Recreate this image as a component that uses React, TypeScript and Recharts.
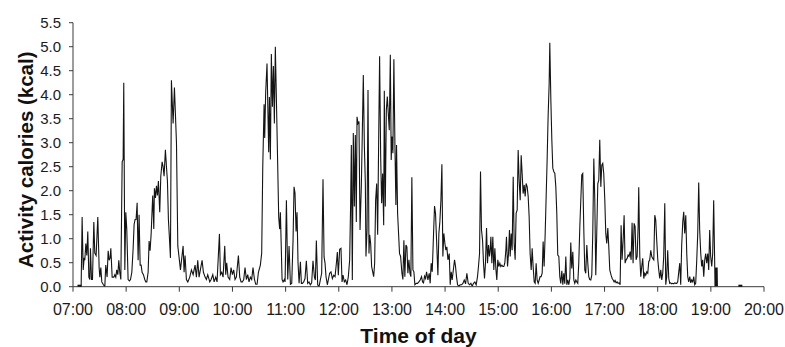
import React from 'react';
import { ComposedChart, Line, Scatter, XAxis, YAxis, Label } from 'recharts';

// Tick labels
const hourLabels = ['07:00', '08:00', '09:00', '10:00', '11:00', '12:00', '13:00', '14:00', '15:00', '16:00', '17:00', '18:00', '19:00', '20:00'];
const kcalTicks = [0, 0.5, 1, 1.5, 2, 2.5, 3, 3.5, 4, 4.5, 5, 5.5];

// [minutes after 07:00, activity kcal]
const part0700: [number, number][] = [
  [9.2, 0], [10.3, 1.45], [11.5, 0.35], [12.6, 0.6], [13.3, 0.55], [14.5, 0.9], [15.6, 0.65], [16.7, 1.15], [17.9, 0.2], [19.0, 0.15],
  [19.7, 0.8], [20.9, 0.15], [22.0, 0.15], [23.5, 1.35], [24.6, 0.7], [26.1, 0.65], [28.0, 1.45], [29.5, 0.4], [30.3, 0.2], [31.4, 0.4],
  [32.5, 0.1], [34.0, 0.05], [35.9, 0], [37.0, 0.45], [38.5, 0.2], [39.7, 0.75], [40.8, 0.55], [41.9, 0.6], [42.7, 0.8], [44.2, 0.2],
  [46.1, 0.2], [47.2, 0.25], [48.3, 0.2], [49.4, 0.35], [50.6, 0.25], [51.7, 0.55], [52.8, 0.3], [54.0, 0.15], [55.5, 2.6], [56.6, 2.65],
  [57.3, 4.25], [58.5, 0.35], [59.6, 1.55], [60.7, 1.2], [62.2, 0.15], [63.7, 0.12], [64.9, 0.15], [66.4, 0.3], [67.9, 0.8], [69.0, 1.3],
  [70.1, 1.4], [71.2, 1.4], [72.4, 1.75], [73.5, 0.55], [74.6, 1.5], [75.8, 0.45], [76.9, 0.45], [78.0, 0.3], [79.5, 0.25], [81.0, 0.15],
  [82.2, 0.1], [83.3, 0.1], [84.8, 0.3], [85.9, 0.95], [87.0, 0.75], [88.2, 1.1], [89.3, 1.6], [90.0, 1.9], [91.2, 1.2], [91.9, 2.05],
  [93.1, 1.85], [94.2, 2.1], [95.3, 1.9], [96.4, 2.2], [97.9, 1.55], [99.1, 2.3], [100.6, 2.6], [101.7, 2.5], [102.8, 2.3], [104.3, 2.85],
  [105.5, 2.5], [106.6, 2.2], [107.7, 1.4], [108.9, 1.0], [110.0, 0.6],
];

const part0900: [number, number][] = [
  [111.1, 4.3], [113.0, 3.4], [114.5, 4.15], [116.8, 3.0], [118.3, 0.85], [121.3, 0.35], [124.3, 0.85], [125.4, 0.3], [126.5, 0.65], [128.0, 0.15],
  [129.6, 0.1], [131.8, 0.2], [133.7, 0.35], [135.6, 0.25], [137.8, 0.45], [139.3, 0.2], [140.8, 0.55], [142.3, 0.2], [145.7, 0.55], [147.2, 0.3],
  [149.1, 0.2], [150.6, 0.15], [152.1, 0.25], [154.4, 0.1], [155.9, 0.15], [157.8, 0.25], [159.3, 0.1], [161.1, 0.2], [162.6, 0.1], [165.3, 1.1],
  [166.4, 0.25], [167.9, 0.3], [169.4, 0.2], [171.3, 0.85], [172.4, 0.25], [173.5, 0.5], [175.0, 0.2], [176.9, 0.15], [178.4, 0.4], [179.9, 0.25],
  [181.4, 0.35], [182.9, 0.15], [184.4, 0.2], [186.7, 0.65], [188.2, 0.2], [189.7, 0.1], [191.2, 0.1], [192.7, 0.15], [194.2, 0.4], [195.7, 0.15],
  [197.2, 0.25], [198.7, 0.1], [200.2, 0.2], [201.7, 0.15], [203.2, 0.4], [204.8, 0.15], [206.3, 0.05], [207.8, 0.05], [209.3, 0.3], [211.5, 0.45],
  [213.0, 0.7], [214.2, 2.5], [215.7, 3.8], [216.4, 3.1], [217.5, 4.05], [219.0, 4.65], [220.9, 2.8], [221.7, 3.95], [222.8, 2.65], [223.9, 4.85],
  [225.1, 3.75], [226.2, 4.6], [227.3, 3.4], [228.4, 5.0], [229.6, 3.9], [231.1, 2.5], [232.2, 1.45], [233.3, 1.2],
];

const part1100: [number, number][] = [
  [234.1, 1.55], [236.0, 0.15], [237.1, 0.1], [238.6, 0.15], [239.4, 0.1], [240.9, 1.8], [242.4, 0.15], [243.9, 0.85], [245.4, 0.05], [246.9, 0.07],
  [248.4, 0.97], [249.5, 2.08], [250.6, 1.95], [251.8, 1.15], [252.9, 1.55], [254.0, 0.5], [255.2, 0.07], [256.7, 0.52], [257.8, 0.07], [258.9, 0.07],
  [260.4, 0.1], [261.9, 0.17], [263.4, 0.54], [264.9, 0.07], [266.4, 0.1], [267.9, 0.04], [269.4, 0.08], [270.9, 0.54], [272.5, 0.2], [273.6, 0.14],
  [274.7, 0.96], [276.2, 0.04], [277.7, 0], [279.2, 0.14], [280.7, 0.28], [282.2, 2.24], [283.4, 0.62], [284.5, 0.49], [285.6, 0.21], [287.1, 0.04],
  [288.2, 0.14], [289.7, 0.28], [291.2, 0.31], [292.8, 0.17], [294.3, 0.24], [295.8, 0.21], [297.3, 0.49], [298.4, 0.72], [299.5, 0.24], [301.0, 0.78],
  [302.5, 0.8], [303.7, 0.1], [304.8, 0.24], [306.3, 0.1], [307.8, 0.14], [309.3, 0.04], [310.8, 0.21], [312.3, 0.56], [313.4, 1.74], [314.2, 2.95],
  [315.3, 0.14], [316.4, 3.2], [317.6, 1.67], [318.7, 3.16], [319.8, 1.35], [320.6, 3.54], [321.7, 3.4], [322.8, 3.44], [324.0, 1.18], [325.5, 2.12],
  [326.6, 3.23], [327.7, 4.41], [328.9, 2.92], [330.0, 2.15], [330.7, 0.63], [331.9, 1.18], [333.0, 4.1], [334.1, 0.69], [334.9, 1.08], [336.0, 0.9],
  [337.1, 0.42], [338.3, 0.31], [339.4, 0.21], [340.5, 0.49], [341.6, 1.8], [342.8, 2.15], [343.9, 1.08], [345.0, 2.99], [346.1, 4.8], [347.3, 2.7],
  [348.4, 1.74], [349.5, 2.36], [350.7, 1.28], [351.4, 4.08], [352.5, 1.67], [353.7, 3.68], [354.8, 3.96], [355.9, 3.61], [357.0, 3.26],
];

const part1300: [number, number][] = [
  [358.2, 4.83], [359.2, 2.64], [360.0, 3.13], [361.1, 2.78], [362.2, 4.74], [363.4, 2.92], [364.5, 1.7], [365.2, 2.95], [366.4, 1.53], [367.5, 1.11],
  [368.6, 0.69], [369.8, 0.63], [371.3, 0.28], [372.4, 0.15], [373.5, 0.97], [374.6, 0.21], [375.8, 0.87], [376.9, 0.83], [378.0, 0.28], [379.2, 0.56],
  [380.3, 0.28], [381.4, 0.21], [382.5, 2.28], [383.7, 0.35], [384.8, 0.31], [385.9, 0.04], [387.4, 0.07], [388.9, 0.07], [390.4, 0.1], [391.9, 0.14],
  [393.4, 0.21], [394.6, 0.1], [395.7, 0.08], [396.8, 0.22], [398.0, 0.17], [399.1, 0.31], [400.6, 0.14], [402.1, 0.28], [403.2, 0.07], [404.3, 0.49],
  [405.5, 0.31], [407.0, 1.11], [408.1, 1.68], [409.2, 1.53], [410.4, 0.97], [411.9, 0.24], [413.0, 1.11], [414.1, 1.35], [415.3, 1.8], [416.4, 2.55],
  [417.5, 0.63], [418.6, 1.11], [419.8, 0.9], [420.9, 0.76], [422.0, 0.83], [423.2, 0.56], [424.7, 0.69], [425.8, 0.04], [426.9, 0.31], [428.0, 0.14],
  [429.5, 0.38], [430.7, 0.56], [431.8, 0.42], [432.9, 0.21], [434.1, 0.04], [435.6, 0.01], [437.1, 0.04], [438.6, 0.04], [440.1, 0.07], [441.6, 0.14],
  [443.1, 0.06], [444.6, 0.28], [446.1, 0.07], [447.6, 0.04], [449.1, 0.07], [450.6, 0.01], [452.1, 0.07], [453.6, 0.1], [455.1, 0.04], [456.6, 0.21],
  [457.7, 0.42], [458.9, 0.69], [460.0, 2.4], [461.1, 1.18], [462.3, 0.97], [463.4, 0.49], [464.5, 0.17], [465.6, 0.49], [466.8, 1.22], [467.9, 0.49],
  [469.0, 0.87], [470.1, 0.63], [470.9, 0.76], [471.7, 1.04], [472.8, 0.49], [473.9, 1.04], [475.0, 0.35], [476.2, 0.8], [477.3, 0.38], [478.4, 0.14],
  [479.5, 0.56],
];

const part1500: [number, number][] = [
  [480.7, 0.42], [481.8, 0.49], [482.9, 0.42], [484.1, 0.45], [485.2, 0.42], [486.3, 0.42], [487.4, 0.49], [488.6, 0.76], [489.3, 1.04], [490.5, 0.42],
  [491.6, 0.69], [492.7, 1.18], [493.5, 0.63], [494.6, 1.11], [495.7, 0.76], [496.9, 2.29], [498.0, 0.9], [499.1, 0.56], [500.2, 1.53], [501.4, 1.6],
  [502.5, 2.85], [503.6, 2.22], [504.8, 1.8], [505.9, 2.74], [507.0, 2.36], [508.1, 1.94], [509.3, 2.12], [510.4, 1.88], [511.5, 2.15], [512.7, 2.08],
  [513.8, 1.88], [514.9, 1.46], [516.0, 0.69], [517.2, 0.35], [518.3, 0.8], [519.4, 0.42], [520.6, 0.1], [521.7, 0.07], [522.8, 0.49], [523.9, 0.14],
  [525.1, 0.07], [526.2, 0.14], [527.3, 0.21], [528.4, 0.21], [529.6, 0.28], [530.7, 0.94], [531.8, 0.42], [533.0, 1.11], [534.1, 1.88], [535.2, 2.64],
  [536.3, 3.54], [537.5, 4.24], [538.2, 5.08], [539.4, 3.89], [540.5, 3.06], [541.6, 2.47], [542.7, 2.4], [543.9, 2.36], [545.0, 2.08], [546.1, 1.53],
  [547.2, 0.66], [548.4, 0.63], [549.5, 0.21], [550.6, 0.07], [551.8, 0.33], [552.9, 0.04], [554.0, 0.28], [555.1, 0.06], [556.3, 0.63], [557.4, 0.04],
  [558.5, 0.14], [559.7, 0.04], [560.8, 0.17], [561.9, 0.92], [563.0, 0.38], [564.2, 0.73], [565.3, 0.14], [566.4, 0.07], [567.6, 0.14], [568.7, 0.1],
  [569.8, 0.07], [570.9, 0.49], [572.1, 1.25], [573.2, 1.8], [574.3, 2.33], [575.4, 2.36], [576.6, 1.18], [577.7, 0.35], [578.8, 0.28], [580.0, 0.87],
  [581.1, 0.49], [582.2, 0.21], [583.3, 0.15], [584.5, 0.14], [585.6, 0.24], [586.7, 1.11], [587.9, 2.67], [589.0, 1.8], [590.1, 0.24], [591.2, 1.11],
  [592.4, 2.15], [593.5, 2.22], [594.6, 3.06], [595.8, 2.08], [596.9, 2.53], [598.0, 2.57], [599.1, 2.36],
];

const part1700: [number, number][] = [
  [600.3, 1.8], [601.4, 1.11], [602.5, 0.9], [603.7, 1.22], [604.8, 0.83], [605.9, 0.35], [607.4, 0.24], [608.6, 0.17], [609.7, 0.14], [610.8, 0.1],
  [611.9, 0.13], [613.1, 0.08], [614.2, 0.1], [615.3, 0.07], [616.5, 0.08], [617.6, 0.04], [618.7, 1.28], [619.8, 0.56], [621.0, 0.97], [622.1, 1.49],
  [623.2, 0.49], [624.3, 0.56], [625.5, 0.59], [626.6, 0.66], [627.7, 0.63], [628.9, 0.73], [630.0, 0.56], [631.1, 1.33], [632.2, 0.49], [633.4, 1.32],
  [634.5, 1.25], [635.6, 0.56], [636.8, 0.63], [637.9, 1.25], [638.6, 2.07], [639.8, 0.63], [640.9, 0.21], [642.0, 0.42], [643.1, 0.59], [644.3, 0.17],
  [645.4, 0.28], [646.5, 0.24], [647.7, 0.31], [648.8, 0.28], [649.9, 0.52], [651.0, 0.56], [652.2, 0.76], [653.3, 0.63], [654.4, 0.59], [655.6, 0.56],
  [656.7, 1.49], [657.8, 1.39], [658.9, 0.97], [660.1, 0.56], [661.2, 0.35], [662.3, 0.17], [663.5, 0.35], [664.6, 0.14], [665.7, 0.28], [666.8, 0.63],
  [668.0, 1.74], [669.1, 0.04], [670.2, 0.21], [671.3, 0.76], [672.5, 0.17], [673.6, 0.07], [674.7, 0.08], [675.9, 0.06], [677.0, 0.07], [678.1, 0.06],
  [679.2, 0.08], [680.4, 0.07], [681.5, 0.07], [682.6, 0.1], [683.8, 0.31], [684.9, 0.49], [686.0, 0.04], [687.1, 0.87], [688.3, 1.35], [689.4, 1.56],
  [690.5, 1.11], [691.7, 1.49], [692.8, 0.69], [693.9, 0.21], [695.0, 0.1], [696.2, 0.21], [697.3, 0.08], [698.4, 0.14], [699.6, 0.1], [700.7, 0.21],
  [701.8, 0.04], [702.9, 0.07], [704.1, 0.56], [705.2, 1.11], [706.3, 2.17], [707.4, 1.18], [708.6, 0.69], [709.7, 0.42], [710.8, 0.56], [712.0, 0.21],
  [713.1, 0.56], [714.2, 0.69], [715.3, 0.49], [716.5, 0.69], [717.6, 0.35], [718.7, 1.18], [719.8, 0.63], [721.0, 0.42], [722.1, 0.69], [723.2, 1.8],
  [724.4, 0.42], [724.7, 0], [725.1, 0.4], [725.4, 0], [725.7, 0.4], [726.1, 0], [726.4, 0.4], [726.8, 0], [727.1, 0.4], [727.4, 0],
];

// Isolated single readings drawn as small squares
const isolatedReadings: [number, number][] = [
  [7.3, 0],
  [753.3, 0],
];

const lineData = [...part0700, ...part0900, ...part1100, ...part1300, ...part1500, ...part1700].map(([t, v]) => ({ t, v }));
const squareData = isolatedReadings.map(([t, v]) => ({ t, v }));
const hourTicks = hourLabels.map((_, i) => i * 60);

const FONT = '"Liberation Sans", Arial, Helvetica, sans-serif';
const INK = '#1a1a1a';

const SquareMark = (props: any) => {
  const { cx, cy } = props;
  if (cx == null || cy == null) return null;
  return <rect x={cx - 2} y={cy - 2} width={4} height={4} fill="#111" />;
};

export default function App() {
  return (
    <div style={{ position: 'absolute', left: 0, top: 0, width: 785, height: 347, background: '#fff' }}>
      <ComposedChart width={785} height={347} margin={{ top: 22.7, right: 21, bottom: 20.3, left: 0 }}>
        <XAxis
          dataKey="t"
          type="number"
          domain={[0, 780]}
          ticks={hourTicks}
          interval={0}
          allowDataOverflow
          height={40}
          tickSize={5}
          tickMargin={12}
          stroke="#3a3a3a"
          tickLine={{ stroke: '#3a3a3a' }}
          tick={{ fill: INK, fontSize: 16, fontFamily: FONT }}
          tickFormatter={(v: number) => hourLabels[Math.round(v / 60)]}
        >
          <Label
            content={(p: any) => {
              const vb = p.viewBox || { x: 73, y: 286.7, width: 691 };
              return (
                <text
                  x={vb.x + vb.width / 2}
                  y={vb.y + 56}
                  textAnchor="middle"
                  fontFamily={FONT}
                  fontWeight="bold"
                  fontSize={21}
                  fill="#111"
                >
                  Time of day
                </text>
              );
            }}
          />
        </XAxis>
        <YAxis
          dataKey="v"
          type="number"
          domain={[0, 5.5]}
          ticks={kcalTicks}
          interval={0}
          allowDataOverflow
          width={73}
          tickSize={4}
          tickMargin={8}
          stroke="#3a3a3a"
          tickLine={{ stroke: '#3a3a3a' }}
          tick={{ fill: INK, fontSize: 15, fontFamily: FONT }}
          tickFormatter={(v: number) => v.toFixed(1)}
        >
          <Label
            content={(p: any) => {
              const vb = p.viewBox || { x: 0, y: 22.7, height: 264 };
              const cx = 33;
              const cy = vb.y + vb.height / 2 + 5;
              return (
                <text
                  x={cx}
                  y={cy}
                  transform={`rotate(-90, ${cx}, ${cy})`}
                  textAnchor="middle"
                  fontFamily={FONT}
                  fontWeight="bold"
                  fontSize={20.5}
                  fill="#111"
                >
                  Activity calories (kcal)
                </text>
              );
            }}
          />
        </YAxis>
        <Line
          data={lineData}
          dataKey="v"
          type="linear"
          stroke="#141414"
          strokeWidth={1.1}
          dot={false}
          activeDot={false}
          isAnimationActive={false}
        />
        <Scatter data={squareData} dataKey="v" shape={<SquareMark />} isAnimationActive={false} />
      </ComposedChart>
    </div>
  );
}
